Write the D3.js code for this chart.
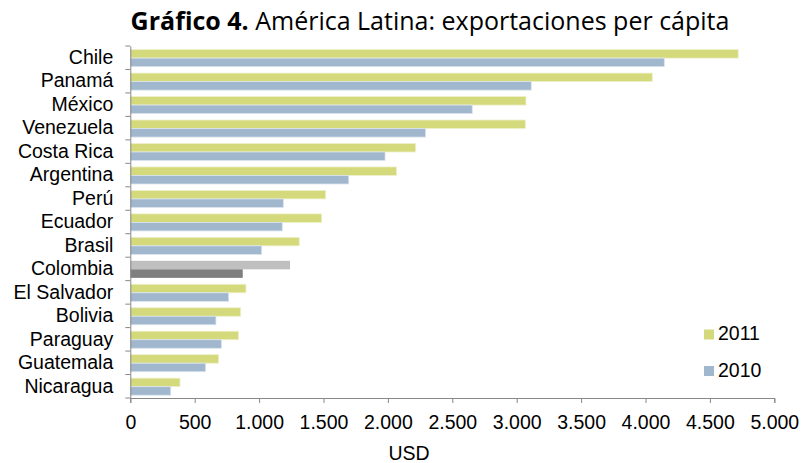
<!DOCTYPE html>
<html>
<head>
<meta charset="utf-8">
<script src="https://cdn.jsdelivr.net/npm/d3@7"></script>
<style>
  body { margin: 0; background: #fff; }
  svg { display: block; }
</style>
</head>
<body>
<svg id="chart" width="801" height="463"></svg>
<script>
// Exportaciones per cápita (USD)
const countries = ["Chile", "Panamá", "México", "Venezuela", "Costa Rica", "Argentina", "Perú",
  "Ecuador", "Brasil", "Colombia", "El Salvador", "Bolivia", "Paraguay", "Guatemala", "Nicaragua"];
const values2011 = [4720, 4053, 3072, 3067, 2216, 2068, 1517, 1486, 1312, 1240, 898, 857, 841, 686, 386];
const values2010 = [4146, 3113, 2655, 2293, 1978, 1696, 1188, 1180, 1020, 873, 764, 665, 707, 585, 314];
const xTicks = [0, 500, 1000, 1500, 2000, 2500, 3000, 3500, 4000, 4500, 5000];
const seriesNames = ["2011", "2010"];
const highlight = "Colombia";

const colors = { "2011": "#d4da7c", "2010": "#a1b7cd" };
const edgeColors = { "2011": "#eef1cc", "2010": "#dbe4ee" };
const highlightColors = { "2011": "#bfbfbf", "2010": "#7f7f7f" };
const labelFont = "'Liberation Sans', Arial, sans-serif";
const labelSize = 19.5;

const svg = d3.select("#chart");
const plotLeft = 130.3, plotRight = 774.3, plotTop = 46, plotBottom = 398;

const x = d3.scaleLinear().domain([0, 5000]).range([plotLeft, plotRight]);
const y = d3.scaleBand().domain(countries).range([plotTop, plotBottom]).paddingInner(0).paddingOuter(0);
const sub = d3.scaleBand().domain(seriesNames).range([3.6, y.bandwidth() - 2.8]).padding(0);

// Title
const title = svg.append("text")
  .attr("x", 430).attr("y", 30)
  .attr("text-anchor", "middle")
  .attr("font-family", "'Open Sans', sans-serif")
  .attr("font-size", 25)
  .attr("fill", "#000");
title.append("tspan").attr("font-weight", "bold").text("Gráfico 4.");
title.append("tspan").text(" América Latina: exportaciones per cápita");

// Bars (coloured series carry a soft pale edge; the highlighted country does not)
const rows = countries.map((c, i) => ({ country: c, "2011": values2011[i], "2010": values2010[i] }));
const groups = svg.append("g").selectAll("g").data(rows).join("g")
  .attr("transform", d => `translate(0,${y(d.country)})`);
groups.selectAll("rect")
  .data(d => seriesNames.map(s => ({ country: d.country, series: s, value: d[s] })))
  .join("rect")
  .attr("x", x(0))
  .attr("y", d => sub(d.series))
  .attr("width", d => x(d.value) - x(0))
  .attr("height", sub.bandwidth())
  .attr("fill", d => d.country === highlight ? highlightColors[d.series] : colors[d.series])
  .attr("stroke", d => d.country === highlight ? "none" : edgeColors[d.series])
  .attr("stroke-width", 0.8);

// X axis
const xAxis = svg.append("g")
  .attr("transform", `translate(0,${plotBottom})`)
  .call(d3.axisBottom(x).tickValues(xTicks).tickSize(5).tickPadding(12)
    .tickFormat(d => d3.format(",")(d).replace(/,/g, ".")));
xAxis.select(".domain").attr("stroke", "#888");
xAxis.selectAll(".tick line").attr("stroke", "#888");
xAxis.selectAll("text")
  .attr("font-family", labelFont)
  .attr("font-size", labelSize).attr("fill", "#000");

// Y axis
const yAxis = svg.append("g")
  .attr("transform", `translate(${plotLeft},0)`)
  .call(d3.axisLeft(y).tickSize(0).tickPadding(17));
yAxis.select(".domain").attr("stroke", "#888");
yAxis.selectAll("text")
  .attr("font-family", labelFont)
  .attr("font-size", labelSize).attr("fill", "#000");
// category separators on the y axis
svg.append("g").selectAll("line")
  .data(countries.concat(["__end"]))
  .join("line")
  .attr("x1", plotLeft - 5).attr("x2", plotLeft)
  .attr("y1", (d, i) => plotTop + i * y.bandwidth())
  .attr("y2", (d, i) => plotTop + i * y.bandwidth())
  .attr("stroke", "#888");

// Axis title
svg.append("text")
  .attr("x", 409).attr("y", 460)
  .attr("text-anchor", "middle")
  .attr("font-family", labelFont)
  .attr("font-size", labelSize)
  .text("USD");

// Legend
const legend = svg.append("g").selectAll("g").data(seriesNames).join("g")
  .attr("transform", (d, i) => `translate(704,${329.5 + i * 36.5})`);
legend.append("rect").attr("width", 10).attr("height", 10).attr("fill", d => colors[d]);
legend.append("text")
  .attr("x", 14).attr("y", 10.7)
  .attr("font-family", labelFont)
  .attr("font-size", labelSize)
  .text(d => d);
</script>
</body>
</html>
